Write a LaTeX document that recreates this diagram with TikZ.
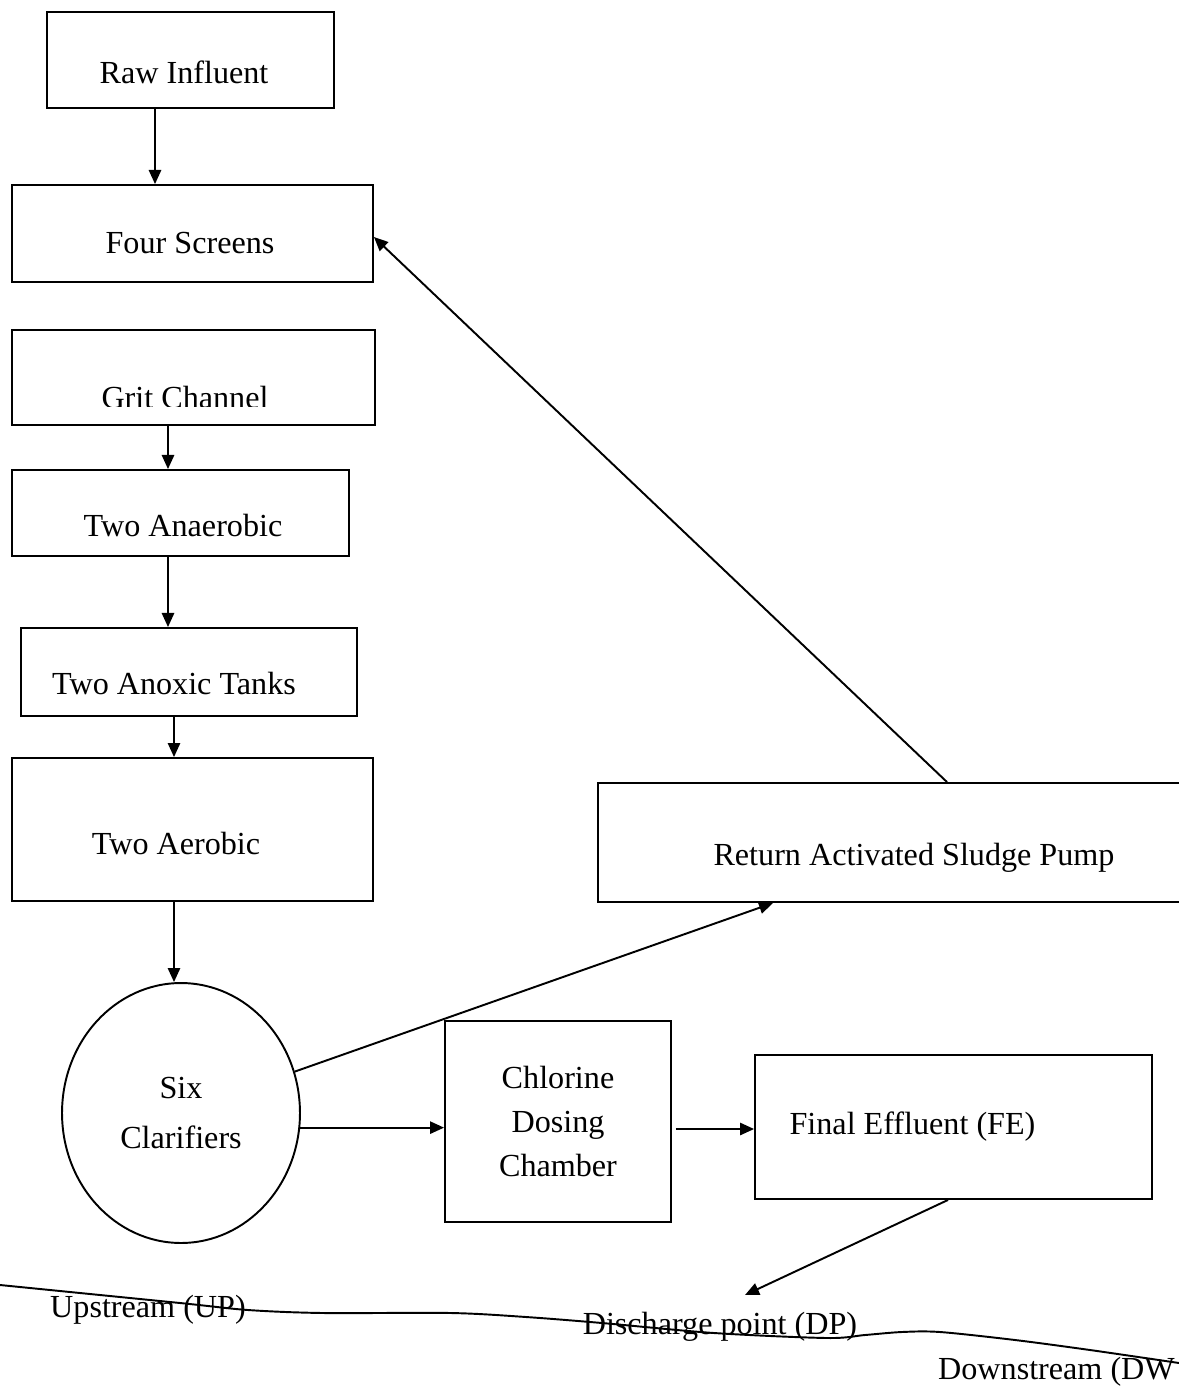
\documentclass[tikz,border=0pt]{standalone}
\usepackage{fontspec}
\setmainfont{Liberation Serif}
\usetikzlibrary{shapes,arrows.meta,positioning}

\begin{document}
\begin{tikzpicture}
[x=0.02cm,y=-0.02cm,
   every node/.style={font=\fontsize{18.3}{25}\selectfont},
   box/.style={draw,rectangle,line width=1.1pt,inner sep=0pt},
   flow/.style={-{Triangle[length=8pt,width=7pt]},line width=1.1pt},
   river/.style={line width=1.1pt}]
\useasboundingbox (0,0) rectangle (1179,1386);

\node[box,minimum width=5.74cm,minimum height=1.92cm,
      label={[xshift=-0.13cm,yshift=-0.24cm]center:Raw Influent}] (raw) at (190.5,60) {};
\node[box,minimum width=7.22cm,minimum height=1.94cm,
      label={[xshift=-0.05cm,yshift=-0.2cm]center:Four Screens}] (screens) at (192.5,233.5) {};
\node[box,minimum width=7.26cm,minimum height=1.9cm] (grit) at (193.5,377.5) {};
\begin{scope}
  \clip (12,330) rectangle (375,406);
  \node (gritlbl) at (185,397) {Grit Channel};
\end{scope}
\node[box,minimum width=6.74cm,minimum height=1.72cm,
      label={[xshift=0.05cm,yshift=-0.24cm]center:Two Anaerobic}] (anaer) at (180.5,513) {};
\node[box,minimum width=6.72cm,minimum height=1.76cm,
      label={[xshift=-0.3cm,yshift=-0.22cm]center:Two Anoxic Tanks}] (anox) at (189,672) {};
\node[box,minimum width=7.22cm,minimum height=2.86cm,
      label={[xshift=-0.33cm,yshift=-0.27cm]center:Two Aerobic}] (aer) at (192.5,829.5) {};
\node[draw,ellipse,line width=1.1pt,minimum width=4.76cm,minimum height=5.2cm,
      inner sep=0pt,align=center] (clar) at (181,1113) {Six\\[3pt]Clarifiers};
\node[box,minimum width=4.52cm,minimum height=4.02cm,align=center,
      font=\fontsize{18.3}{25.3}\selectfont] (chlor) at (558,1121.5) {Chlorine\\Dosing\\Chamber};
\node[box,minimum width=7.94cm,minimum height=2.88cm,
      label={[xshift=-0.82cm]center:Final Effluent (FE)}] (fe) at (953.5,1127) {};
\node[box,minimum width=11.74cm,minimum height=2.38cm,
      label={[xshift=0.45cm,yshift=-0.31cm]center:Return Activated Sludge Pump}] (ras) at (891.5,842.5) {};

% main line
\draw[flow] ([xshift=-0.71cm]raw.south) -- ([xshift=-0.75cm]screens.north);
\draw[flow] ([xshift=-0.51cm]grit.south) -- ([xshift=-0.25cm]anaer.north);
\draw[flow] ([xshift=-0.25cm]anaer.south) -- ([xshift=-0.42cm]anox.north);
\draw[flow] ([xshift=-0.3cm]anox.south) -- ([xshift=-0.37cm]aer.north);
\draw[flow] ([xshift=-0.37cm]aer.south) -- ([xshift=-0.14cm]clar.north);
\draw[flow] (clar.-7.7) -- (clar.-7.7 -| chlor.west);
\draw[flow] ([xshift=0.08cm,yshift=-0.15cm]chlor.east) -- ([yshift=-0.15cm]chlor.east -| fe.west);

% sludge return
\draw[flow] (clar.20) -- ([xshift=-2.37cm]ras.south);
\draw[flow] ([xshift=1.11cm]ras.north) -- ([yshift=-0.07cm]screens.east);

% river
\coordinate (dpin) at (745,1295);
\draw[flow] ([xshift=-0.11cm]fe.south) -- (dpin);
\draw[river] plot[smooth,tension=0.5] coordinates {(0,1285) (180,1303) (248,1310) (323,1313)
   (451,1313) (526,1317) (602,1323) (714,1333) (827,1338) (865,1335) (902,1332) (940,1332)
   (1015,1340) (1090,1350) (1179,1363)};
\node (up) at (148,1310) {Upstream (UP)};
\node (dp) at (720,1327) {Discharge point (DP)};
\node[anchor=east] (down) at (1181,1372) {Downstream (DW};
\end{tikzpicture}
\end{document}
